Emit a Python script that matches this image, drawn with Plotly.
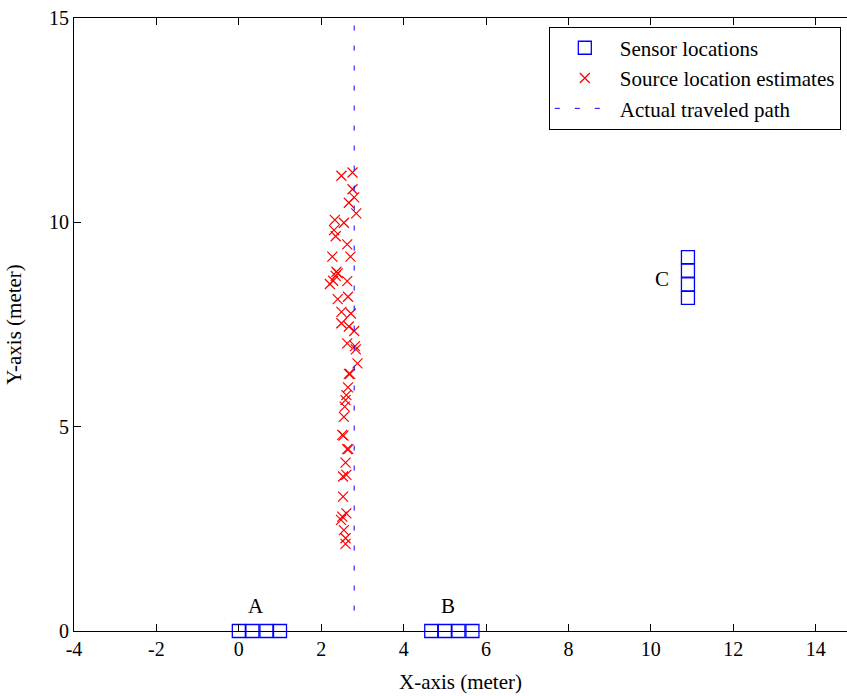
import plotly.graph_objects as go

# Source location estimates (x, y) in meters
est_x = [2.49, 2.76, 2.76, 2.80, 2.67, 2.85, 2.33, 2.55, 2.31, 2.35, 2.63, 2.27, 2.71,
         2.37, 2.35, 2.40, 2.21, 2.29, 2.63, 2.40, 2.65, 2.49, 2.72, 2.49, 2.67, 2.80,
         2.63, 2.82, 2.84, 2.88, 2.67, 2.70, 2.65, 2.61, 2.59, 2.57, 2.55, 2.51, 2.54,
         2.63, 2.66, 2.59, 2.53, 2.61, 2.53, 2.51, 2.61, 2.48, 2.55, 2.59, 2.59]
est_y = [11.14, 11.22, 10.81, 10.61, 10.48, 10.22, 10.06, 9.99, 9.81, 9.66, 9.46, 9.16, 9.16,
         8.79, 8.69, 8.75, 8.49, 8.57, 8.56, 8.12, 8.18, 7.81, 7.77, 7.53, 7.45, 7.34,
         7.04, 6.97, 6.89, 6.55, 6.29, 6.29, 5.96, 5.77, 5.65, 5.49, 5.24, 4.80, 4.78,
         4.45, 4.45, 4.12, 3.78, 3.82, 3.29, 2.80, 2.88, 2.72, 2.47, 2.27, 2.13]

# Sensor locations
sensor_x = [0.0, 0.33, 0.67, 1.0, 4.67, 5.0, 5.33, 5.67, 10.9, 10.9, 10.9, 10.9]
sensor_y = [0.0, 0.0, 0.0, 0.0, 0.0, 0.0, 0.0, 0.0, 8.15, 8.48, 8.82, 9.15]

# Actual traveled path
path_x = [2.8, 2.8]
path_y = [0.5, 15.0]

# Array labels
label_text = ["A", "B", "C"]
label_x = [0.41, 5.07, 10.27]
label_y = [0.6, 0.6, 8.61]

x_ticks = [-4, -2, 0, 2, 4, 6, 8, 10, 12, 14]
y_ticks = [0, 5, 10, 15]

FONT = "Liberation Serif, Times New Roman, serif"

fig = go.Figure()
fig.add_trace(go.Scatter(
    x=sensor_x, y=sensor_y, mode="markers", name="Sensor locations", cliponaxis=False,
    marker=dict(symbol="square-open", size=13, color="#0000ff", line=dict(width=1.3, color="#0000ff")),
))
fig.add_trace(go.Scatter(
    x=est_x, y=est_y, mode="markers", name="Source location estimates",
    marker=dict(symbol="x-thin-open", size=10, color="#ff0000", line=dict(width=1.2, color="#ff0000")),
))
fig.add_trace(go.Scatter(
    x=path_x, y=path_y, mode="lines", name="Actual traveled path",
    line=dict(color="#0000ff", width=1, dash="5px,15px"),
))

for t, xx, yy in zip(label_text, label_x, label_y):
    fig.add_annotation(x=xx, y=yy, text=t, showarrow=False,
                       font=dict(family=FONT, size=21, color="black"))

fig.update_layout(
    width=847, height=696,
    margin=dict(l=74, r=0, t=18, b=65),
    paper_bgcolor="white", plot_bgcolor="white",
    font=dict(family=FONT, size=19, color="black"),
    showlegend=True,
    legend=dict(
        x=0.992, y=0.986, xanchor="right", yanchor="top",
        bgcolor="white", bordercolor="black", borderwidth=1,
        font=dict(family=FONT, size=21, color="black"),
        itemwidth=60, tracegroupgap=0,
    ),
    xaxis=dict(
        range=[-4, 14.76], tickvals=x_ticks, ticktext=[str(v) for v in x_ticks],
        ticks="inside", ticklen=7, tickcolor="black", showline=True, linecolor="black",
        linewidth=1, mirror="ticks", showgrid=False, zeroline=False,
        title=dict(text="X-axis (meter)", standoff=15, font=dict(family=FONT, size=21)),
        tickfont=dict(family=FONT, size=20),
    ),
    yaxis=dict(
        range=[0, 15], tickvals=y_ticks, ticktext=[str(v) for v in y_ticks],
        ticks="inside", ticklen=7, tickcolor="black", showline=True, linecolor="black",
        linewidth=1, mirror=False, showgrid=False, zeroline=False,
        title=dict(text="Y-axis (meter)", standoff=21, font=dict(family=FONT, size=21)),
        tickfont=dict(family=FONT, size=20),
    ),
)

fig.write_html("out.html")
